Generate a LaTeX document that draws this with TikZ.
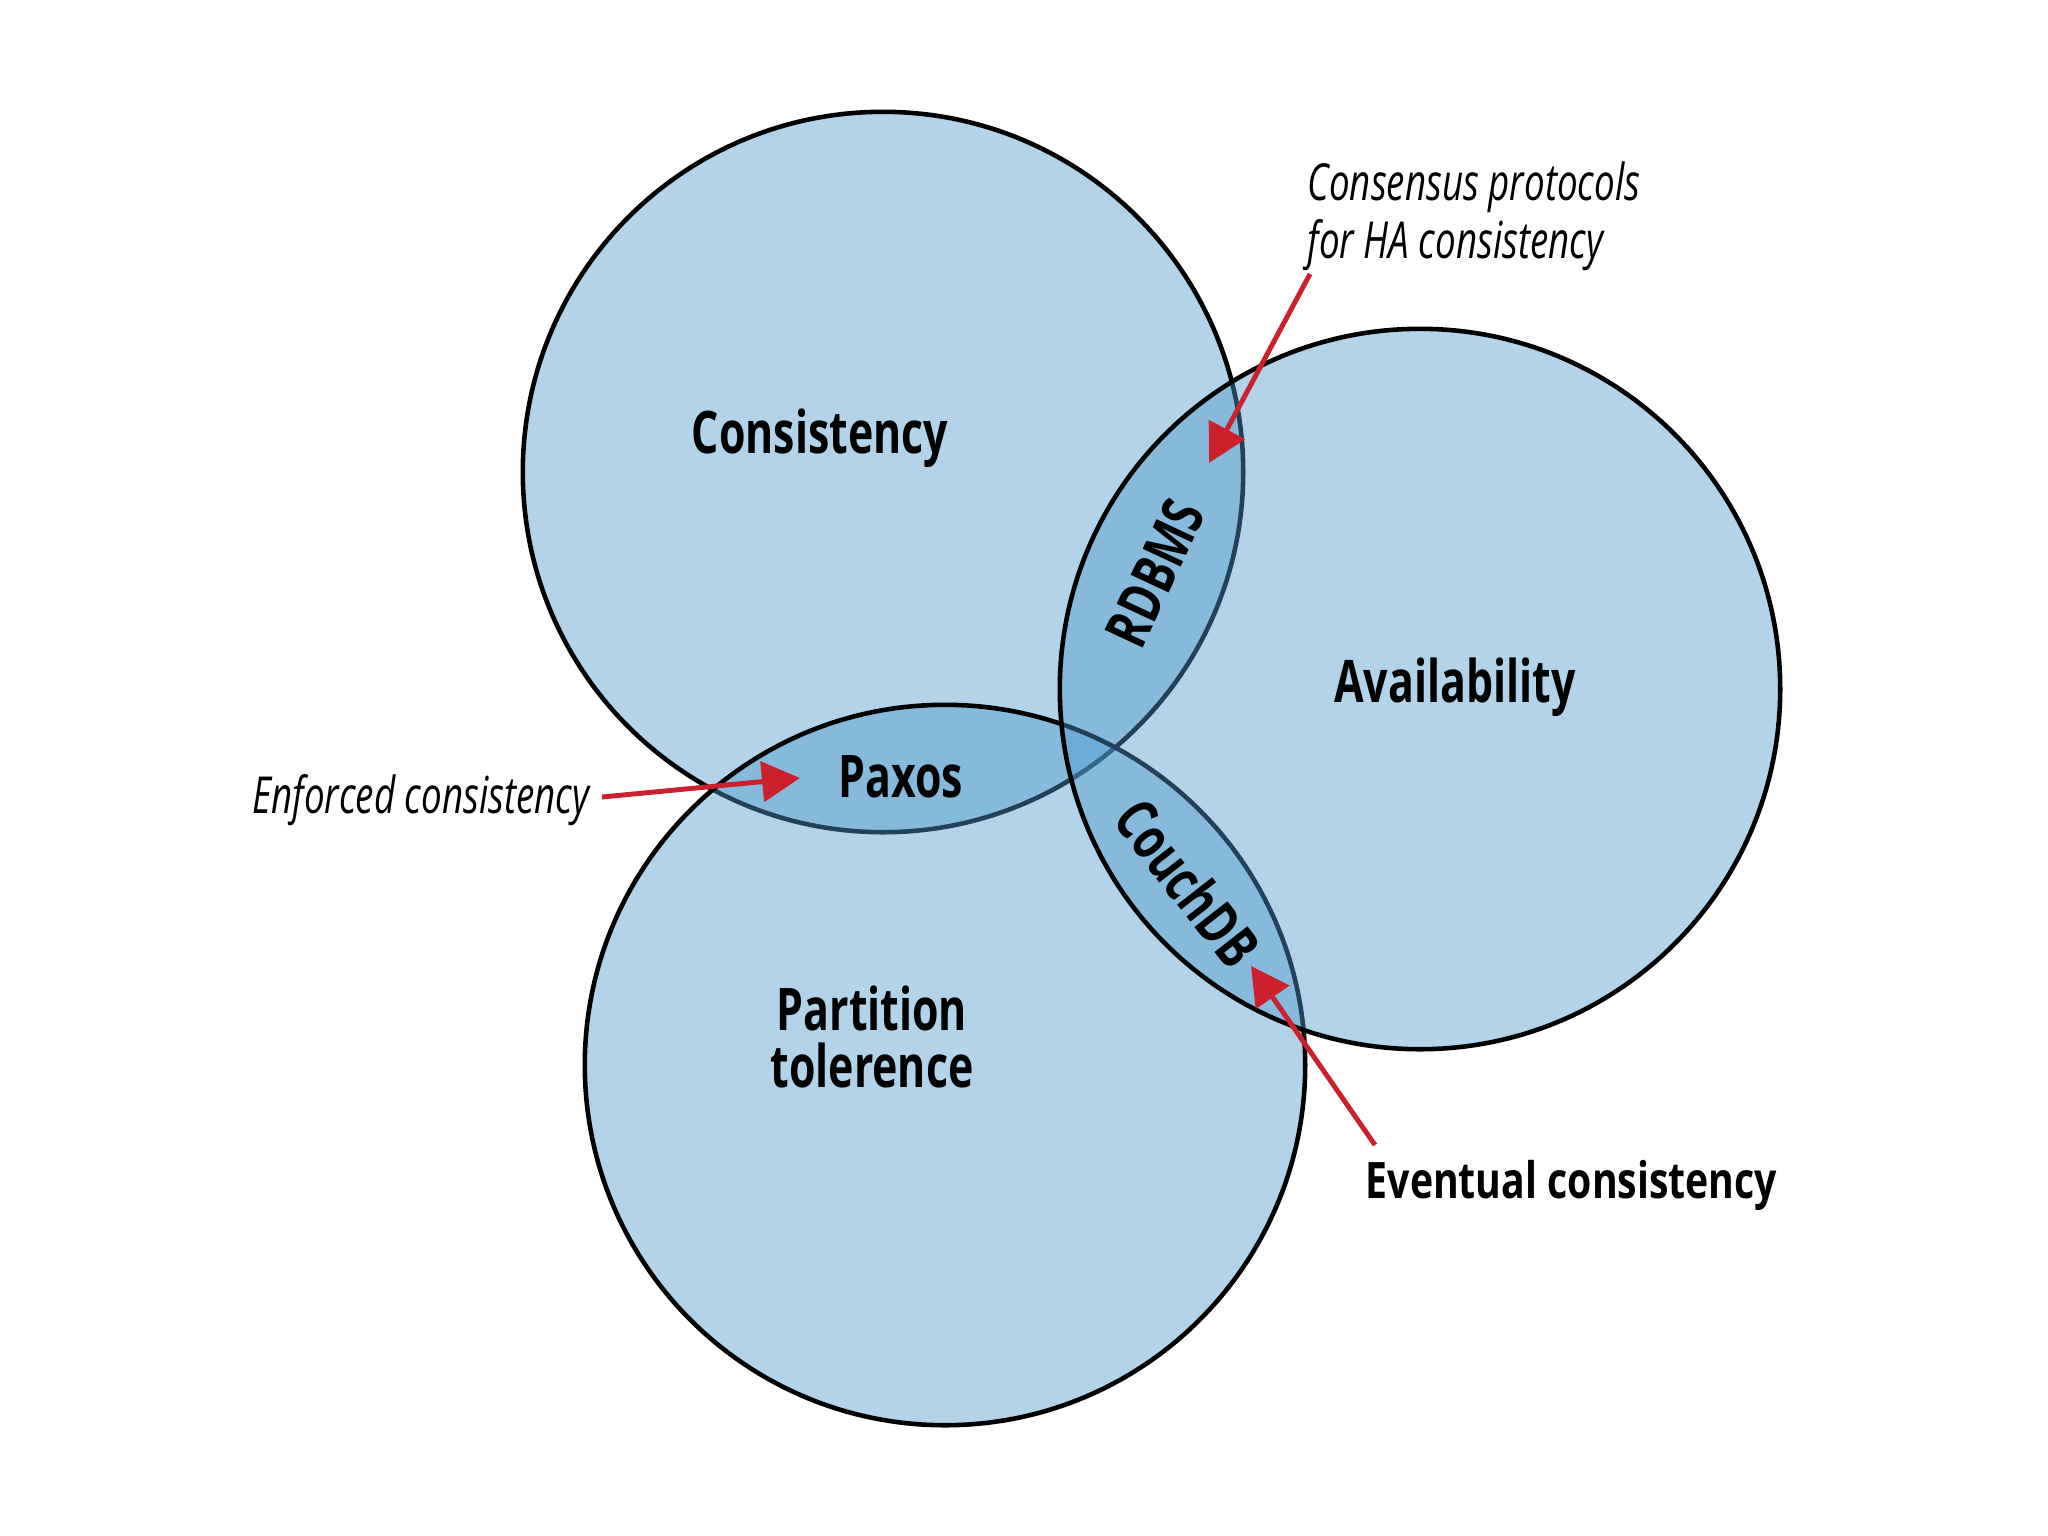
\documentclass[tikz,border=0pt]{standalone}
\usepackage{fontspec}
\usetikzlibrary{arrows.meta}
\newfontfamily\lblbold[FakeStretch=0.73]{Open Sans Bold}
\newfontfamily\lblboldw[FakeStretch=0.78]{Open Sans Bold}
\newfontfamily\lblital[FakeStretch=0.72]{Open Sans Italic}
\definecolor{vennblue}{RGB}{78,155,206}
\definecolor{arrowred}{RGB}{204,32,45}
\tikzset{
  venn/.style={circle, draw=black, line width=1.3pt, fill=vennblue, fill opacity=0.43, minimum size=7.2cm, inner sep=0pt},
  biglabel/.style={inner sep=0pt, font=\lblbold\fontsize{16.7}{20}\selectfont},
  smalllabel/.style={inner sep=0pt, font=\lblboldw\fontsize{14.3}{17}\selectfont},
  itlabel/.style={inner sep=0pt, font=\lblital\fontsize{14.5}{17}\selectfont},
  redarrow/.style={draw=arrowred, line width=1.4pt, -{Triangle[length=0.38cm,width=0.40cm]}}
}
\begin{document}
\begin{tikzpicture}[x=0.01cm,y=-0.01cm]
\useasboundingbox (0,0) rectangle (2048,1535);
\fill[white] (0,0) rectangle (2048,1535);
% circles
\node[venn] (C) at (883,472) {};
\node[venn] (P) at (945,1065) {};
\node[venn] (A) at (1420,689) {};
% main labels
\node[biglabel, anchor=base] (cons) at (820,453) {Consistency};
\node[biglabel, anchor=base] (avail) at (1455,702) {Availability};
\node[biglabel, anchor=base] (part1) at (872,1030) {Partition};
\node[biglabel, anchor=base] (part2) at (872,1087) {tolerence};
\node[biglabel, anchor=base] (paxos) at (901,797) {Paxos};
\node[biglabel, rotate=65] (rdbms) at (1155,573) {RDBMS};
\node[biglabel, rotate=-52] (couch) at (1188,883) {CouchDB};
% annotations
\node[itlabel, anchor=base east] (enf) at (590,813) {Enforced consistency};
\node[itlabel, anchor=base west] (cp1) at (1307,200) {Consensus protocols};
\node[itlabel, anchor=base west] (cp2) at (1307,258) {for HA consistency};
\node[smalllabel, anchor=base west] (ev) at (1365,1198) {Eventual consistency};
% arrows
\coordinate (enfstart) at (602,797);
\coordinate (paxtip) at (800,778);
\coordinate (cpstart) at (1310,274);
\coordinate (rdbtip) at (1209,463);
\coordinate (evstart) at (1375,1145);
\coordinate (couchtip) at (1251,966);
\draw[redarrow] (enfstart) -- (paxtip);
\draw[redarrow] (cpstart) -- (rdbtip);
\draw[redarrow] (evstart) -- (couchtip);
\end{tikzpicture}
\end{document}
